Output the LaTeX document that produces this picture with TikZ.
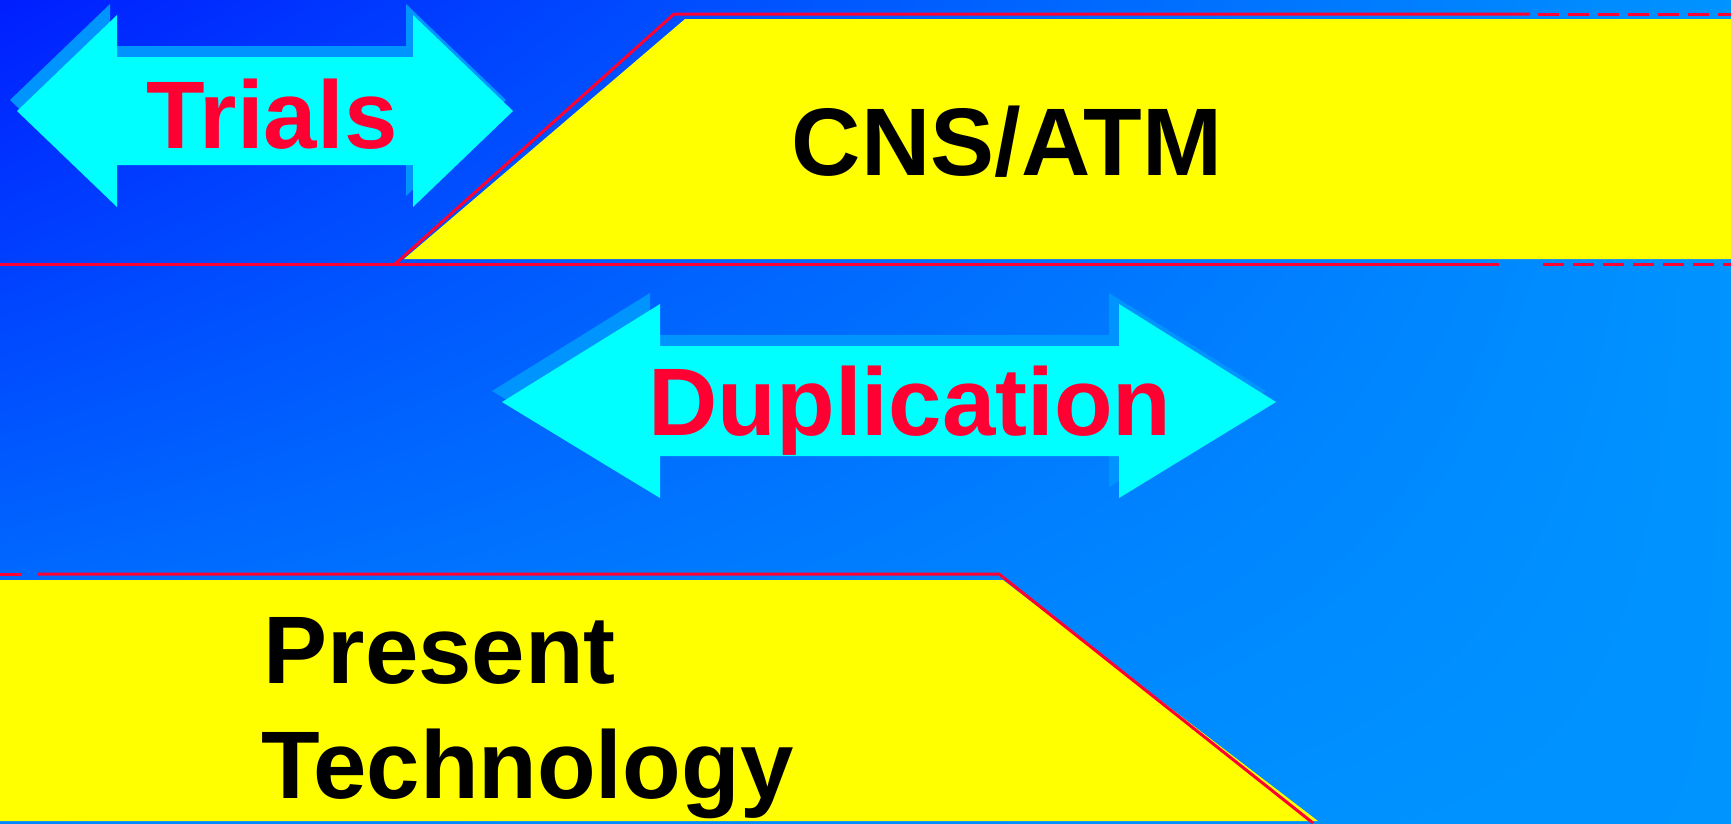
\documentclass[tikz,border=0pt]{standalone}
\usepackage{fontspec}
\setmainfont{Liberation Sans}
\usepackage{tikz}
\usetikzlibrary{shadings}

\definecolor{slidered}{RGB}{255,0,51}
\definecolor{slideyellow}{RGB}{255,255,0}
\definecolor{slidecyan}{RGB}{0,255,255}
\definecolor{slideshadow}{RGB}{0,148,255}
\definecolor{bgdark}{RGB}{0,30,255}
\definecolor{bgmid}{RGB}{0,135,255}
\definecolor{bglight}{RGB}{0,148,255}

\begin{document}
\begin{tikzpicture}[x=0.01cm, y=-0.01cm,
  redline/.style={slidered, line width=0.85pt},
  reddash/.style={redline, dash pattern=on 5.97pt off 2.56pt},
  bigtext/.style={inner sep=0pt, font=\fontsize{27.3}{32.7}\selectfont\bfseries},
  arrowtext/.style={bigtext, text=slidered, anchor=base},
  bandtext/.style={bigtext, text=black}]
\useasboundingbox (0,0) rectangle (1731,823);
% Background
\shade[upper left=bgdark, upper right=bglight, lower left=bgmid, lower right=bglight]
  (0,0) rectangle (1731,823);

% CNS/ATM band
\fill[slideyellow] (404,259) -- (685,19) -- (1731,19) -- (1731,259) -- cycle;
\draw[redline] (0,264) -- (1499,264);
\draw[reddash] (1543,264) -- (1731,264);
\draw[redline] (395,264) -- (674,14) -- (1530,14);
\draw[reddash] (1538,14) -- (1731,14);
\node[bandtext, anchor=base] (cns) at (1007,175) {CNS/ATM};

% Present technology band
\fill[slideyellow] (0,580) -- (1003,580) -- (1318,821) -- (0,821) -- cycle;
\draw[redline] (0,574) -- (21,574);
\draw[redline] (38,574) -- (999,574) -- (1313,823);
\node[bandtext, anchor=base west] (present) at (263,683) {Present};
\node[bandtext, anchor=base west] (technology) at (261,798) {Technology};

% Trials arrow
\foreach \dx/\dy/\col in {-7/-11/slideshadow, 0/0/slidecyan}
  \fill[\col, shift={(\dx,\dy)}] (17,111) -- (117,15) -- (117,57) -- (413,57) -- (413,15)
    -- (513,111) -- (413,207) -- (413,165) -- (117,165) -- (117,207) -- cycle;
\node[arrowtext] (trials) at (272,148) {Trials};

% Duplication arrow
\foreach \dx/\dy/\col in {-10/-11/slideshadow, 0/0/slidecyan}
  \fill[\col, shift={(\dx,\dy)}] (502,402) -- (660,304) -- (660,346) -- (1119,346) -- (1119,304)
    -- (1276,402) -- (1119,498) -- (1119,456) -- (660,456) -- (660,498) -- cycle;
\node[arrowtext] (dupl) at (910,435) {Duplication};
\end{tikzpicture}
\end{document}
